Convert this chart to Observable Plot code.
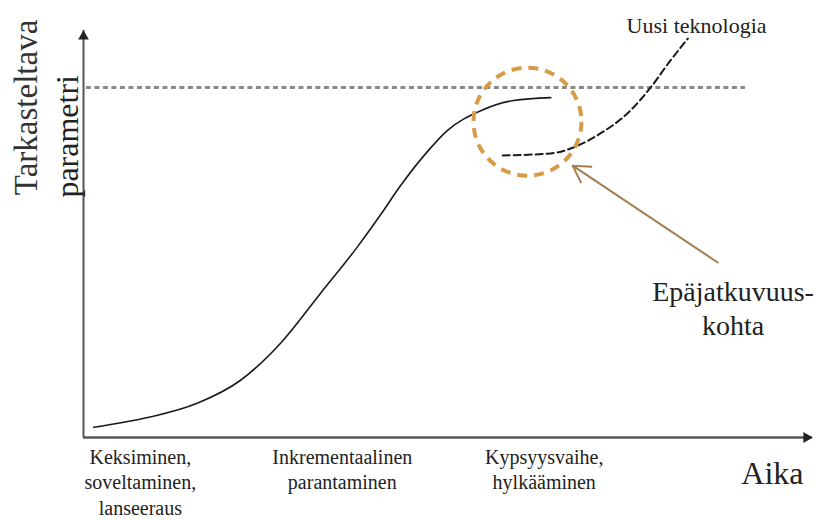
<!DOCTYPE html>
<html>
<head>
<meta charset="utf-8">
<script src="https://cdn.jsdelivr.net/npm/d3@7"></script>
<script src="https://cdn.jsdelivr.net/npm/@observablehq/plot@0.6"></script>
<style>
  html, body { margin: 0; padding: 0; background: #fff; }
  #chart { width: 821px; height: 519px; overflow: hidden; }
</style>
</head>
<body>
<div id="chart"></div>
<script>
// ---- Data (diagram units: time 0–100, parameter 0–100) ----
// Mature technology S-curve
const sCurveTime  = [1.4, 8.8, 15.6, 21.5, 27.0, 32.5, 37.6, 40.7, 43.5, 47.2, 49.9, 54.5, 59.0, 64.1];
const sCurveValue = [2.5, 4.9, 8.4, 14.0, 23.1, 35.4, 46.9, 54.6, 61.9, 70.3, 75.4, 80.3, 82.8, 83.5];
// New technology (dashed) curve
const newTechTime  = [57.5, 64.1, 67.8, 70.9, 74.6, 77.8, 80.5, 82.9];
const newTechValue = [69.3, 69.8, 71.7, 74.7, 79.6, 86.0, 92.6, 98.0];
// Performance ceiling (dashed horizontal line)
const ceilingLevel = [86];
const ceilingSpan  = [0.4, 90.8];
// Discontinuity marker (circle centre) and pointer arrow
const discontinuity = [{t: 60.9, v: 77.6}];
const pointerFrom = [87.0, 43.0];
const pointerTo   = [67.1, 66.8];
// Phase labels along time axis
const phasePos    = [7.8, 35.5, 63.2];
const phaseLabels = ["Keksiminen,\nsoveltaminen,\nlanseeraus", "Inkrementaalinen\nparantaminen", "Kypsyysvaihe,\nhylkääminen"];
// Annotation texts
const newTechLabel = {t: 84.1, v: 101.2, text: "Uusi teknologia"};
const discLabel    = {t: 89.1, v: 32.0, text: "Epäjatkuvuus-\nkohta"};
const xTitle       = {t: 94.5, v: -8.8, text: "Aika"};
const yTitle1      = {t: -7.8, v: 81.1, text: "Tarkasteltava"};
const yTitle2      = {t: -2.1, v: 74.0, text: "parametri"};
const axisDomain   = [0, 100];

const sCurve  = sCurveTime.map((t, i) => ({t, v: sCurveValue[i]}));
const newTech = newTechTime.map((t, i) => ({t, v: newTechValue[i]}));
const phases  = phasePos.map((t, i) => ({t, v: 0, text: phaseLabels[i]}));
const pointer = [{x1: pointerFrom[0], y1: pointerFrom[1], x2: pointerTo[0], y2: pointerTo[1]}];

const serif = "'Liberation Serif', 'Times New Roman', serif";
const axisColor = "#555";

const chart = Plot.plot({
  width: 821,
  height: 519,
  marginLeft: 83,
  marginRight: 9,
  marginTop: 30,
  marginBottom: 82,
  x: {domain: axisDomain, axis: null},
  y: {domain: axisDomain, axis: null},
  style: {fontFamily: serif, background: "#fff", overflow: "hidden"},
  marks: [
    // ceiling
    Plot.ruleY(ceilingLevel, {x1: ceilingSpan[0], x2: ceilingSpan[1], stroke: "#8a8a8a", strokeWidth: 3, strokeDasharray: "5,3.5"}),
    // axes
    Plot.ruleX([axisDomain[0]], {y1: axisDomain[0], y2: axisDomain[1], stroke: axisColor, strokeWidth: 2}),
    Plot.ruleY([axisDomain[0]], {x1: axisDomain[0], x2: axisDomain[1], stroke: axisColor, strokeWidth: 2.5}),
    Plot.dot([{t: axisDomain[0], v: axisDomain[1]}], {x: "t", y: "v", symbol: "triangle", r: 4, fill: "#222", dy: 6}),
    Plot.dot([{t: axisDomain[1], v: axisDomain[0]}], {x: "t", y: "v", symbol: "triangle", r: 4, fill: "#222", rotate: 90, dx: -6}),
    // S-curve
    Plot.line(sCurve, {x: "t", y: "v", curve: "monotone-x", stroke: "#1a1a1a", strokeWidth: 1.6}),
    // new technology curve
    Plot.line(newTech, {x: "t", y: "v", curve: "monotone-x", stroke: "#1a1a1a", strokeWidth: 2, strokeDasharray: "7,4"}),
    // discontinuity circle
    Plot.dot(discontinuity, {x: "t", y: "v", r: 54, stroke: "#d89c48", strokeWidth: 4, strokeDasharray: "10,7", fill: "none"}),
    // pointer arrow
    Plot.arrow(pointer, {x1: "x1", y1: "y1", x2: "x2", y2: "y2", stroke: "#a57c4e", strokeWidth: 2, headLength: 14}),
    // phase labels
    Plot.text(phases, {x: "t", y: "v", text: "text", lineAnchor: "top", dy: 8, fontSize: 20, lineHeight: 1.28, fill: "#222"}),
    // annotations
    Plot.text([newTechLabel], {x: "t", y: "v", text: "text", fontSize: 22, fill: "#222"}),
    Plot.text([discLabel], {x: "t", y: "v", text: "text", fontSize: 28, lineHeight: 1.2, fill: "#222"}),
    Plot.text([xTitle], {x: "t", y: "v", text: "text", fontSize: 32, fill: "#222"}),
    Plot.text([yTitle1], {x: "t", y: "v", text: "text", fontSize: 33, rotate: -90, fill: "#333"}),
    Plot.text([yTitle2], {x: "t", y: "v", text: "text", fontSize: 32, rotate: -90, fill: "#222"})
  ]
});
document.getElementById("chart").appendChild(chart);
</script>
</body>
</html>
